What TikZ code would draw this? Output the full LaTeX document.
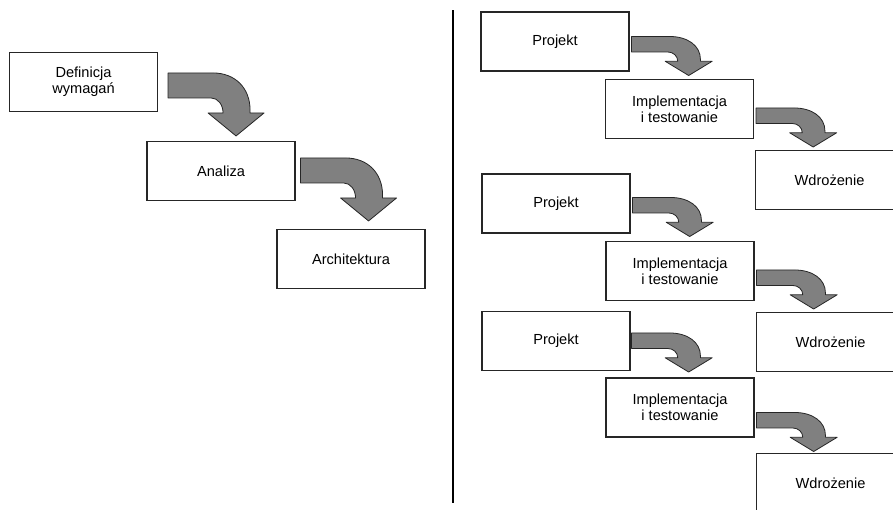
\documentclass[tikz,border=0pt]{standalone}
\usepackage{fontspec}
\setmainfont{Liberation Sans}
\usetikzlibrary{calc}
\begin{document}
\begin{tikzpicture}[x=1pt,y=-1pt,
  box/.style={draw=black!85,line width=1.1pt,fill=white,rectangle,
    minimum width=148pt,minimum height=59pt,inner sep=0pt,align=center,
    font=\fontsize{14.6}{15.8}\selectfont},
  arrowfill/.style={fill=black!50,draw=black!85,line width=0.8pt,line join=round},
  bend arrow/.pic={
    \filldraw[arrowfill] (0,0) -- (45,0) .. controls (67,0) and (82,15) .. (82,37)
      -- (82,40) -- (96,40) -- (68,63) -- (40,40) -- (55,40)
      .. controls (55,32) and (50,25) .. (43,25) -- (0,25) -- cycle;
  },
  small/.style={xscale=0.84,yscale=0.62}
]
\clip (0,0) rectangle (893,509);
\fill[white] (0,0) rectangle (893,509);

% left column
\node[box] (def) at (83.5,82) {Definicja\\wymagań};
\node[box] (ana) at (221,171) {Analiza};
\node[box] (arch) at (351,259) {Architektura};

\pic at ($(def.north east)+(10,21)$) {bend arrow};
\pic at ($(ana.north east)+(5,17)$) {bend arrow};

% separator
\coordinate (s1) at (453,10);
\coordinate (s2) at (453,503);
\draw[line width=1.3pt,black] (s1) -- (s2);

% right column
\node[box] (p1) at (555,41.5) {Projekt};
\node[box] (i1) at (679.5,109) {Implementacja\\i testowanie};
\node[box,anchor=west] (w1) at (755,180) {Wdrożenie};

\node[box] (p2) at (556,203.5) {Projekt};
\node[box] (i2) at (680,271) {Implementacja\\i testowanie};
\node[box,anchor=west] (w2) at (756,342) {Wdrożenie};

\node[box] (p3) at (556,341) {Projekt};
\node[box] (i3) at (680,407.5) {Implementacja\\i testowanie};
\node[box,anchor=west] (w3) at (756,483) {Wdrożenie};

\pic[small] at ($(p1.north east)+(2,25)$) {bend arrow};
\pic[small] at ($(i1.north east)+(2,29)$) {bend arrow};
\pic[small] at ($(p2.north east)+(2,24)$) {bend arrow};
\pic[small] at ($(i2.north east)+(2,29)$) {bend arrow};
\pic[small] at ($(p3.north east)+(1,22)$) {bend arrow};
\pic[small] at ($(i3.north east)+(2,35)$) {bend arrow};
\end{tikzpicture}
\end{document}
